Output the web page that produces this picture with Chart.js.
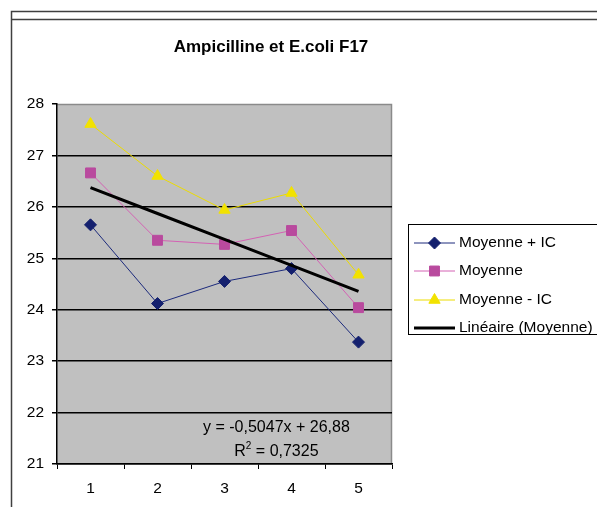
<!DOCTYPE html>
<html>
<head>
<meta charset="utf-8">
<script src="https://cdn.jsdelivr.net/npm/chart.js@4/dist/chart.umd.min.js"></script>
<style>
  html, body { margin: 0; padding: 0; background: #fff; }
  #wrap { width: 597px; height: 507px; }
</style>
</head>
<body>
<div id="wrap"><canvas id="chart-ampi"></canvas></div>
<script>
const titleText = "Ampicilline et E.coli F17";
const labels = ["1", "2", "3", "4", "5"];
const moyennePlusIC = [25.65, 24.12, 24.55, 24.8, 23.37];
const moyenne = [26.66, 25.35, 25.27, 25.54, 24.04];
const moyenneMoinsIC = [27.61, 26.6, 25.94, 26.27, 24.68];
// trendline from the equation shown on the chart
const trendSlope = -0.5047;
const trendIntercept = 26.88;
const trendR2 = "0,7325";
const yTicks = [21, 22, 23, 24, 25, 26, 27, 28];

const FONT = "'Liberation Sans', Arial, sans-serif";

const trendValues = labels.map((l) => trendSlope * Number(l) + trendIntercept);

const plotBackground = {
  id: "plotBackground",
  beforeDraw: (chart) => {
    const { ctx, chartArea: a } = chart;
    ctx.save();
    ctx.fillStyle = "#fff";
    ctx.fillRect(0, 0, chart.width, chart.height);
    ctx.fillStyle = "#c0c0c0";
    ctx.fillRect(a.left, a.top, a.right - a.left, a.bottom - a.top);
    // gray border top / right
    ctx.strokeStyle = "#8a8a8a";
    ctx.lineWidth = 1.5;
    ctx.beginPath();
    ctx.moveTo(a.left, a.top + 0.5);
    ctx.lineTo(a.right - 0.5, a.top + 0.5);
    ctx.lineTo(a.right - 0.5, a.bottom);
    ctx.stroke();
    ctx.restore();
  },
};

const decorations = {
  id: "decorations",
  afterDraw: (chart) => {
    const { ctx, chartArea: a } = chart;
    ctx.save();

    // outer frame
    ctx.strokeStyle = "#404040";
    ctx.lineWidth = 1.5;
    ctx.beginPath();
    ctx.moveTo(11.5, chart.height);
    ctx.lineTo(11.5, 11.5);
    ctx.lineTo(chart.width, 11.5);
    ctx.moveTo(11.5, 19.5);
    ctx.lineTo(chart.width, 19.5);
    ctx.stroke();

    // title
    ctx.fillStyle = "#000";
    ctx.font = "bold 17px " + FONT;
    ctx.textAlign = "center";
    ctx.textBaseline = "middle";
    ctx.fillText(titleText, 271, 47);

    // trend equation
    ctx.font = "16px " + FONT;
    const eqX = a.left + (a.right - a.left) * 0.655;
    ctx.fillText("y = " + String(trendSlope).replace(".", ",") + "x + " + String(trendIntercept).replace(".", ","), eqX, 428);
    ctx.textAlign = "left";
    const r1 = "R";
    const r2 = " = " + trendR2;
    ctx.font = "16px " + FONT;
    const w1 = ctx.measureText(r1).width;
    ctx.font = "10px " + FONT;
    const wSup = ctx.measureText("2").width;
    ctx.font = "16px " + FONT;
    const w2 = ctx.measureText(r2).width;
    let rx = eqX - (w1 + wSup + w2) / 2;
    ctx.fillText(r1, rx, 452);
    ctx.font = "10px " + FONT;
    ctx.fillText("2", rx + w1, 446);
    ctx.font = "16px " + FONT;
    ctx.fillText(r2, rx + w1 + wSup, 452);

    // legend
    const lx = 408.5, ly = 224.5;
    ctx.fillStyle = "#fff";
    ctx.fillRect(lx, ly, chart.width - lx + 5, 110);
    ctx.strokeStyle = "#000";
    ctx.lineWidth = 1;
    ctx.strokeRect(lx, ly, chart.width - lx + 5, 110);
    const rows = [243, 271, 300, 328];
    chart.data.datasets.forEach((ds, i) => {
      const y = rows[i];
      ctx.strokeStyle = ds.borderColor;
      ctx.lineWidth = ds.borderWidth;
      ctx.beginPath();
      ctx.moveTo(414, y);
      ctx.lineTo(455, y);
      ctx.stroke();
      if (ds.pointRadius > 0) {
        ctx.fillStyle = ds.pointBackgroundColor;
        ctx.strokeStyle = ds.pointBorderColor;
        ctx.lineWidth = 1;
        Chart.helpers.drawPoint(ctx, { pointStyle: ds.pointStyle, radius: ds.pointRadius, borderWidth: 1 }, 434.5, y);
      }
      ctx.fillStyle = "#000";
      ctx.font = "15.5px " + FONT;
      ctx.textAlign = "left";
      ctx.textBaseline = "middle";
      ctx.fillText(ds.label, 459, y);
    });

    ctx.restore();
  },
};

const datasets = [
  {
    label: "Moyenne + IC",
    data: moyennePlusIC,
    borderColor: "#1c2a7c",
    borderWidth: 1,
    pointStyle: "rectRot",
    pointRadius: 6,
    pointBackgroundColor: "#14206e",
    pointBorderColor: "#14206e",
    order: 1,
  },
  {
    label: "Moyenne",
    data: moyenne,
    borderColor: "#d462b4",
    borderWidth: 1,
    pointStyle: "rect",
    pointRadius: 7,
    pointBackgroundColor: "#b94a9e",
    pointBorderColor: "#b94a9e",
    order: 1,
  },
  {
    label: "Moyenne - IC",
    data: moyenneMoinsIC,
    borderColor: "#ecdc00",
    borderWidth: 1,
    pointStyle: "triangle",
    pointRadius: 6.5,
    pointBackgroundColor: "#f2e200",
    pointBorderColor: "#f2e200",
    order: 1,
  },
  {
    label: "Linéaire (Moyenne)",
    data: trendValues,
    borderColor: "#000",
    borderWidth: 3,
    pointRadius: 0,
    pointBackgroundColor: "#000",
    pointBorderColor: "#000",
    order: 0,
  },
];

const config = {
  type: "line",
  data: { labels, datasets },
  options: {
    responsive: true,
    maintainAspectRatio: false,
    animation: false,
    layout: { padding: { left: 0, right: 205, top: 104, bottom: 0 } },
    plugins: {
      legend: { display: false },
      title: { display: false },
      tooltip: { enabled: false },
    },
    elements: { line: { tension: 0 } },
    scales: {
      x: {
        type: "category",
        offset: true,
        afterFit: (scale) => { scale.height = 43; },
        grid: {
          offset: true,
          drawOnChartArea: false,
          drawTicks: true,
          tickLength: 5,
          color: "#000",
          tickColor: "#000",
        },
        border: { color: "#000", width: 1.5 },
        ticks: { color: "#000", font: { family: FONT, size: 15.5 }, padding: 10, maxRotation: 0 },
      },
      y: {
        min: 21,
        max: 28,
        afterFit: (scale) => { scale.width = 57; },
        afterBuildTicks: (scale) => { scale.ticks = yTicks.map((v) => ({ value: v })); },
        grid: {
          color: (c) => (c.tick && c.tick.value === 28 ? "rgba(0,0,0,0)" : "#000"),
          tickColor: "#000",
          lineWidth: 1.5,
          tickLength: 5,
        },
        border: { color: "#000", width: 1.5 },
        ticks: { color: "#000", font: { family: FONT, size: 15.5 }, padding: 8 },
      },
    },
  },
  plugins: [plotBackground, decorations],
};

new Chart(document.querySelector("#chart-ampi"), config);
</script>
</body>
</html>
